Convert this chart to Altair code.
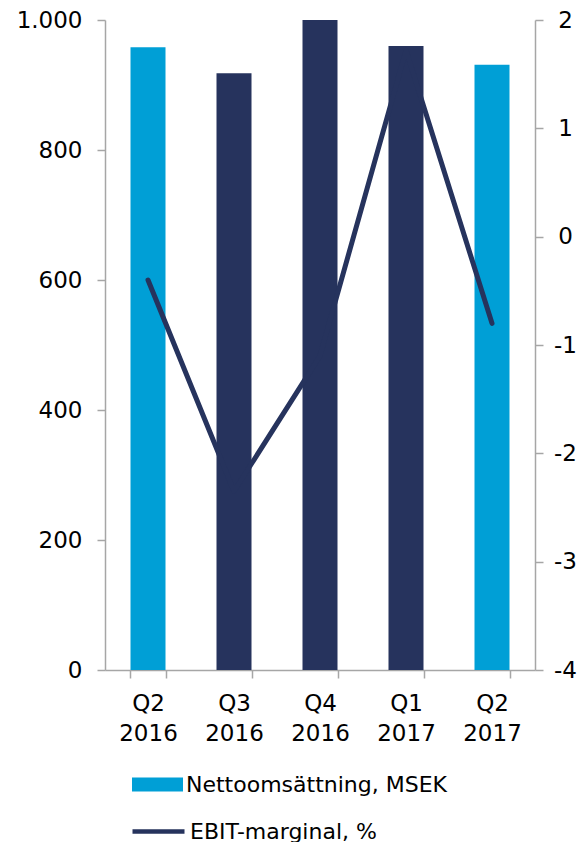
import altair as alt
import pandas as pd

quarters = ["Q2 2016", "Q3 2016", "Q4 2016", "Q1 2017", "Q2 2017"]
net_sales = [958, 918, 1000, 960, 931]
ebit_margin = [-0.4, -2.35, -1.1, 1.72, -0.8]
bar_group = ["Nettoomsättning, MSEK", "övrigt", "övrigt", "övrigt", "Nettoomsättning, MSEK"]
line_group = ["EBIT-marginal, %"] * 5
left_ticks = [0, 200, 400, 600, 800, 1000]
right_ticks = [-4, -3, -2, -1, 0, 1, 2]

LIGHT = "#009FD6"
NAVY = "#26335D"
FONT = "DejaVu Sans"

df = pd.DataFrame({
    "quarter": quarters,
    "net": net_sales,
    "ebit": ebit_margin,
    "bar_group": bar_group,
    "line_group": line_group,
})

x_enc = alt.X(
    "quarter:N",
    sort=quarters,
    scale=alt.Scale(paddingInner=0.593, paddingOuter=0.2965),
    axis=alt.Axis(
        title=None,
        labelAngle=0,
        labelExpr="split(datum.label, ' ')",
        tickBand="extent",
        labelPadding=14,
        labelLineHeight=30,
    ),
)

bars = alt.Chart(df).mark_bar().encode(
    x=x_enc,
    y=alt.Y(
        "net:Q",
        scale=alt.Scale(domain=[0, 1000], nice=False),
        axis=alt.Axis(
            title=None,
            values=left_ticks,
            labelExpr="replace(format(datum.value, ','), ',', '.')",
            labelPadding=15,
            grid=False,
        ),
    ),
    color=alt.Color(
        "bar_group:N",
        scale=alt.Scale(domain=["Nettoomsättning, MSEK", "övrigt"], range=[LIGHT, NAVY]),
        legend=alt.Legend(
            title=None,
            values=["Nettoomsättning, MSEK"],
            orient="none",
            legendX=27,
            legendY=739,
            symbolType="M-1,-0.27H1V0.27H-1Z",
            symbolSize=2601,
            symbolStrokeWidth=0,
            labelFont=FONT,
            labelFontSize=22,
            labelColor="#000000",
            labelOffset=3,
            labelLimit=500,
            padding=0,
        ),
    ),
)

line = alt.Chart(df).mark_line(strokeWidth=5, strokeCap="round", strokeJoin="round").encode(
    x=x_enc,
    y=alt.Y(
        "ebit:Q",
        scale=alt.Scale(domain=[-4, 2], nice=False),
        axis=alt.Axis(
            title=None,
            orient="right",
            values=right_ticks,
            labelExpr="'' + datum.value",
            labelAlign="center",
            labelPadding=22,
            grid=False,
        ),
    ),
    stroke=alt.Stroke(
        "line_group:N",
        scale=alt.Scale(domain=["EBIT-marginal, %"], range=[NAVY]),
        legend=alt.Legend(
            title=None,
            orient="none",
            legendX=25,
            legendY=783,
            symbolType="stroke",
            symbolSize=2704,
            symbolStrokeWidth=4.5,
            labelFont=FONT,
            labelFontSize=22,
            labelColor="#000000",
            labelOffset=3,
            labelLimit=500,
            padding=0,
        ),
    ),
)

chart = (
    alt.layer(bars, line)
    .resolve_scale(y="independent")
    .properties(
        width=430,
        height=650,
        autosize=alt.AutoSizeParams(type="none"),
        padding={"left": 97, "top": 12, "right": 43, "bottom": 172},
    )
    .configure_view(stroke=None)
    .configure_axis(
        domainColor="#A6A6A6",
        domainWidth=1.5,
        tickColor="#A6A6A6",
        tickWidth=1.5,
        tickSize=8,
        labelFont=FONT,
        labelFontSize=23,
        labelColor="#000000",
    )
)

chart.save("out.html", embed_options={"renderer": "svg", "actions": False})
